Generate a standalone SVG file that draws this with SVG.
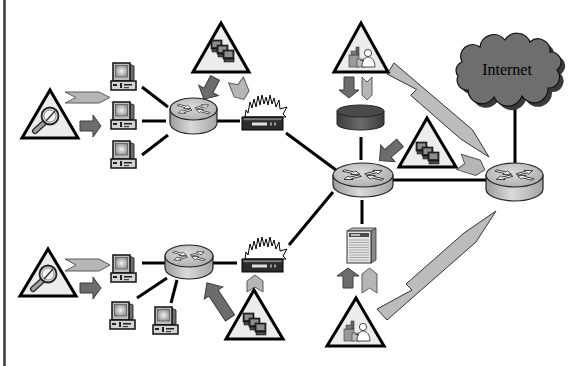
<svg xmlns="http://www.w3.org/2000/svg" xmlns:xlink="http://www.w3.org/1999/xlink" width="568" height="366" viewBox="0 0 568 366">
  <style>
    .ln { stroke: #000; stroke-width: 3; fill: none; }
    .tri { fill: #ececec; stroke: #000; stroke-width: 3; stroke-linejoin: miter; }
    .darr { fill: #6c6c6c; stroke: #3c3c3c; stroke-width: 1; stroke-linejoin: miter; }
    .chev { fill: #b6b6b6; stroke: #5a5a5a; stroke-width: 1; stroke-linejoin: miter; }
    .bolt { fill: #bcbcbc; stroke: #333; stroke-width: 1; stroke-linejoin: miter; }
    .rtop { fill: url(#gRtop); stroke: #222; stroke-width: 1.2; }
    .rbody { fill: url(#gRbody); stroke: #222; stroke-width: 1.2; }
    .ra { fill: #fff; stroke: #111; stroke-width: 0.8; }
    .label { font-family: "Liberation Serif", "Times New Roman", serif; font-size: 16px; fill: #000; }
  </style>
  <defs>
    <linearGradient id="gRbody" x1="0" y1="0" x2="1" y2="0">
      <stop offset="0" stop-color="#9c9c9c"/>
      <stop offset="0.45" stop-color="#dadada"/>
      <stop offset="1" stop-color="#a4a4a4"/>
    </linearGradient>
    <radialGradient id="gRtop" cx="0.45" cy="0.4" r="0.7">
      <stop offset="0" stop-color="#dcdcdc"/>
      <stop offset="1" stop-color="#a8a8a8"/>
    </radialGradient>
    <linearGradient id="gDb" x1="0" y1="0" x2="1" y2="0">
      <stop offset="0" stop-color="#3c3c3c"/>
      <stop offset="0.5" stop-color="#6a6a6a"/>
      <stop offset="1" stop-color="#3c3c3c"/>
    </linearGradient>
    <radialGradient id="gScr" cx="0.5" cy="0.5" r="0.6">
      <stop offset="0" stop-color="#f2f2f2"/>
      <stop offset="1" stop-color="#8a8a8a"/>
    </radialGradient>

    <!-- desktop computer -->
    <g id="pc">
      <polygon points="19,1 24,3 24,17 19,18" fill="#6f6f6f" stroke="#111" stroke-width="0.8"/>
      <rect x="3" y="0" width="17" height="18" fill="#bcbcbc" stroke="#111" stroke-width="1.5"/>
      <rect x="5.5" y="2.5" width="12" height="11.5" fill="url(#gScr)" stroke="#444" stroke-width="0.6"/>
      <rect x="1" y="18" width="25" height="9" fill="#d2d2d2" stroke="#111" stroke-width="1.5"/>
      <rect x="3" y="21" width="4" height="2" fill="#222"/>
      <rect x="10" y="20" width="2" height="5" fill="#222"/>
      <rect x="14" y="21" width="8" height="1.5" fill="#222"/>
      <rect x="14" y="24" width="5" height="1.2" fill="#444"/>
    </g>

    <!-- four arrows on a router top, drawn for rx=24 -->
    <path id="raOut" class="ra" d="M2.5,-1.6 H11.5 V-4 L17.5,0 L11.5,4 V1.6 H2.5 Z"/>
    <path id="raIn" class="ra" d="M18,-1.6 H9 V-4 L3,0 L9,4 V1.6 H18 Z"/>
    <g id="rarrows">
      <g transform="scale(1,0.46)">
        <use xlink:href="#raIn" transform="rotate(-150)"/>
        <use xlink:href="#raOut" transform="rotate(-30)"/>
        <use xlink:href="#raIn" transform="rotate(30)"/>
        <use xlink:href="#raOut" transform="rotate(150)"/>
      </g>
    </g>

    <!-- firewall: box with flames, origin at top-left of box -->
    <g id="firewall">
      <path d="M3,0 L4,-7 L6,-4 L8,-15 L10,-9 L12,-18 L14,-10 L16,-21 L18,-12 L20,-22 L22,-13 L24,-20 L26,-12 L28,-22 L30,-13 L32,-19 L34,-10 L37,-17 L38,-8 L45,-10 L41,-3 L44,0 Z" fill="#fff" stroke="#000" stroke-width="1"/>
      <rect x="0" y="0" width="41" height="13" fill="#2b2b2b" stroke="#000" stroke-width="1"/>
      <rect x="1.5" y="1.2" width="38" height="2" fill="#7a7a7a"/>
      <rect x="10" y="5.5" width="15" height="3" fill="#e0e0e0"/>
      <rect x="28" y="5.5" width="2" height="3" fill="#9a9a9a"/>
      <rect x="32" y="5.5" width="2" height="3" fill="#9a9a9a"/>
    </g>

    <!-- three stacked workstations -->
    <g id="mini">
      <rect x="0" y="0" width="11" height="9" fill="#2e2e2e" stroke="#000" stroke-width="0.6"/>
      <rect x="1.6" y="1.5" width="7.8" height="5.5" fill="#8e8e8e"/>
      <rect x="1" y="9" width="10" height="3" fill="#4a4a4a" stroke="#000" stroke-width="0.5"/>
    </g>
    <g id="stack">
      <use xlink:href="#mini" x="0" y="0"/>
      <use xlink:href="#mini" x="6" y="5"/>
      <use xlink:href="#mini" x="12" y="10"/>
    </g>

    <!-- magnifying glass -->
    <g id="magnifier">
      <line x1="-5" y1="6" x2="-15" y2="15" stroke="#222" stroke-width="6" stroke-linecap="round"/>
      <line x1="-5" y1="6" x2="-15" y2="15" stroke="#a0a0a0" stroke-width="3.6" stroke-linecap="round"/>
      <circle cx="0" cy="0" r="8.5" fill="#d8d8d8" stroke="#222" stroke-width="1.8"/>
      <circle cx="0" cy="0" r="6" fill="#f4f4f4" stroke="#777" stroke-width="0.8"/>
      <line x1="-4" y1="5" x2="5" y2="-5" stroke="#333" stroke-width="1.4"/>
    </g>

    <!-- person at a workbench -->
    <g id="lab">
      <rect x="7" y="0" width="3" height="8" fill="#666" stroke="#222" stroke-width="0.5"/>
      <rect x="0" y="8" width="10" height="12" fill="#9a9a9a" stroke="#333" stroke-width="0.6"/>
      <rect x="2" y="4" width="6" height="4" fill="#7a7a7a" stroke="#333" stroke-width="0.5"/>
      <rect x="8" y="12" width="8" height="8" fill="#bdbdbd" stroke="#333" stroke-width="0.6"/>
      <path d="M13,20 C13,13 16,10 19,10 C23,10 26,14 26,20 Z" fill="#fff" stroke="#222" stroke-width="0.8"/>
      <circle cx="19" cy="6" r="3.6" fill="#fff" stroke="#222" stroke-width="0.8"/>
      <path d="M15,14 L11,13" stroke="#222" stroke-width="0.8"/>
    </g>
  </defs>

  <rect width="568" height="366" fill="#fff"/>
  <line x1="4.5" y1="0" x2="4.5" y2="366" stroke="#3a3a3a" stroke-width="2.5"/>

  <!-- links -->
  <g id="connectors">
    <line class="ln" x1="142" y1="87" x2="168" y2="107"/>
    <line class="ln" x1="142" y1="121" x2="166" y2="121"/>
    <line class="ln" x1="142" y1="155" x2="168" y2="135"/>
    <line class="ln" x1="217" y1="121" x2="240" y2="121"/>
    <line class="ln" x1="142" y1="263" x2="165" y2="263"/>
    <line class="ln" x1="213" y1="263" x2="237" y2="263"/>
    <line class="ln" x1="137" y1="298" x2="167" y2="278"/>
    <line class="ln" x1="171" y1="303" x2="177" y2="280"/>
    <line class="ln" x1="286" y1="133" x2="336" y2="170"/>
    <line class="ln" x1="289" y1="245" x2="333" y2="192"/>
    <line class="ln" x1="361" y1="137" x2="361" y2="160"/>
    <line class="ln" x1="362" y1="200" x2="362" y2="224"/>
    <line class="ln" x1="390" y1="180" x2="488" y2="180"/>
    <line class="ln" x1="515" y1="104" x2="515" y2="165"/>
  </g>

  <!-- lightning links to the edge router -->
  <g id="bolts">
    <polygon class="bolt" points="387,74 416.6,89.4 410.7,95.3 460.8,139.1 489,157 472.5,129.8 394,63"/>
    <polygon class="bolt" points="377,309 412,290 406,284 464,233 496,211 476,242 387,320"/>
  </g>

  <!-- flow arrows -->
  <g id="arrows">
    <path class="darr" transform="translate(80,126)" d="M0,-5 H13 V-11 L21,0 L13,11 V5 H0 Z"/>
    <path class="darr" transform="translate(80,288)" d="M0,-5 H13 V-11 L21,0 L13,11 V5 H0 Z"/>
    <path class="darr" transform="translate(215,78) rotate(117.6)" d="M0,-5 H14 V-11 L24,0 L14,11 V5 H0 Z"/>
    <path class="darr" transform="translate(349,77) rotate(90)" d="M0,-5 H13 V-10 L21,0 L13,10 V5 H0 Z"/>
    <path class="darr" transform="translate(400,143) rotate(139.4)" d="M0,-5 H16 V-11 L27,0 L16,11 V5 H0 Z"/>
    <path class="darr" transform="translate(230,318) rotate(-123.3)" d="M0,-5.5 H30 V-11 L42,0 L30,11 V5.5 H0 Z"/>
    <path class="darr" transform="translate(348,288) rotate(-90)" d="M0,-5 H12 V-11 L20,0 L12,11 V5 H0 Z"/>

    <polygon class="chev" points="65,92 99,92 110,97.5 99,103 65,103 76,97.5"/>
    <polygon class="chev" points="65,259 99,259 110,265 99,271 65,271 76,265"/>
    <polygon class="chev" transform="translate(236,80) rotate(68)" points="0,-8 15,-8 21,0 15,8 0,8 5,0"/>
    <polygon class="chev" transform="translate(367,77) rotate(90)" points="0,-5 18,-5 23,0 18,5 0,5 5,0"/>
    <polygon class="chev" transform="translate(459,162) rotate(17)" points="0,-8 20,-8 27,0 20,8 0,8 6,0"/>
    <polygon class="chev" transform="translate(255,292) rotate(-90)" points="0,-8 11,-8 17,0 11,8 0,8 5,0"/>
    <polygon class="chev" transform="translate(369.5,293) rotate(-90)" points="0,-7.5 19,-7.5 25,0 19,7.5 0,7.5 5,0"/>
  </g>

  <!-- hosts on the upper LAN -->
  <g id="pc-u1"><use xlink:href="#pc" x="110" y="63"/></g>
  <g id="pc-u2"><use xlink:href="#pc" x="110" y="102"/></g>
  <g id="pc-u3"><use xlink:href="#pc" x="110" y="141"/></g>

  <!-- hosts on the lower LAN -->
  <g id="pc-l1"><use xlink:href="#pc" x="110" y="255"/></g>
  <g id="pc-l2"><use xlink:href="#pc" x="109" y="302"/></g>
  <g id="pc-l3"><use xlink:href="#pc" x="152" y="307"/></g>

  <!-- routers -->
  <g id="router-upper">
    <path class="rbody" d="M170,109 V123 A23.5,11 0 0 0 217,123 V109 Z"/>
    <ellipse class="rtop" cx="193.5" cy="109" rx="23.5" ry="11"/>
    <use xlink:href="#rarrows" transform="translate(193.5,109)"/>
  </g>
  <g id="router-lower">
    <path class="rbody" d="M165,256 V268 A24,11 0 0 0 213,268 V256 Z"/>
    <ellipse class="rtop" cx="189" cy="256" rx="24" ry="11"/>
    <use xlink:href="#rarrows" transform="translate(189,256)"/>
  </g>
  <g id="router-core">
    <path class="rbody" d="M333,175 V185 A30,12 0 0 0 393,185 V175 Z"/>
    <ellipse class="rtop" cx="363" cy="175" rx="30" ry="12"/>
    <use xlink:href="#rarrows" transform="translate(363,175) scale(1.25,1.09)"/>
  </g>
  <g id="router-edge">
    <path class="rbody" d="M486,175 V189 A28.5,12 0 0 0 543,189 V175 Z"/>
    <ellipse class="rtop" cx="514.5" cy="175" rx="28.5" ry="12"/>
    <use xlink:href="#rarrows" transform="translate(514.5,175) scale(1.19,1.09)"/>
  </g>

  <!-- firewalls -->
  <g id="firewall-upper"><use xlink:href="#firewall" x="242" y="117"/></g>
  <g id="firewall-lower"><use xlink:href="#firewall" x="242" y="259"/></g>

  <!-- database -->
  <g id="database">
    <path d="M337,111 V124 A23.5,6 0 0 0 384,124 V111 Z" fill="url(#gDb)" stroke="#222" stroke-width="1"/>
    <ellipse cx="360.5" cy="111" rx="23.5" ry="6" fill="#4a4a4a" stroke="#222" stroke-width="1"/>
  </g>

  <!-- file server -->
  <g id="server" transform="translate(347,228)">
    <polygon points="24,3 29,0 29,32 24,35" fill="#8a8a8a" stroke="#333" stroke-width="0.8"/>
    <polygon points="0,3 5,0 29,0 24,3" fill="#bdbdbd" stroke="#333" stroke-width="0.8"/>
    <rect x="0" y="3" width="24" height="32" fill="#e4e4e4" stroke="#333" stroke-width="1"/>
    <rect x="2" y="5" width="20" height="4" fill="#4a4a4a"/>
    <rect x="4" y="6.3" width="9" height="1.4" fill="#eee"/>
    <g stroke="#9a9a9a" stroke-width="0.8">
      <line x1="2" y1="12" x2="22" y2="12"/>
      <line x1="2" y1="14.5" x2="22" y2="14.5"/>
      <line x1="2" y1="17" x2="22" y2="17"/>
      <line x1="2" y1="19.5" x2="22" y2="19.5"/>
      <line x1="2" y1="22" x2="22" y2="22"/>
      <line x1="2" y1="24.5" x2="22" y2="24.5"/>
      <line x1="2" y1="27" x2="22" y2="27"/>
      <line x1="2" y1="29.5" x2="22" y2="29.5"/>
      <line x1="2" y1="32" x2="22" y2="32"/>
    </g>
  </g>

  <!-- internet cloud -->
  <g id="internet">
    <path transform="translate(4,4)" fill="#3a3a3a" d="M462,62 A12,12 0 0,1 480,47 A14,14 0 0,1 505,40 A14,14 0 0,1 530,42 A12,12 0 0,1 550,52 A10,10 0 0,1 557,70 A11,11 0 0,1 548,88 A14,14 0 0,1 522,96 A15,15 0 0,1 494,97 A14,14 0 0,1 468,90 A10,10 0 0,1 458,76 A9,9 0 0,1 462,62 Z"/>
    <path fill="#6e6e6e" stroke="#111" stroke-width="1.2" d="M462,62 A12,12 0 0,1 480,47 A14,14 0 0,1 505,40 A14,14 0 0,1 530,42 A12,12 0 0,1 550,52 A10,10 0 0,1 557,70 A11,11 0 0,1 548,88 A14,14 0 0,1 522,96 A15,15 0 0,1 494,97 A14,14 0 0,1 468,90 A10,10 0 0,1 458,76 A9,9 0 0,1 462,62 Z"/>
    <text class="label" x="507" y="75" text-anchor="middle">Internet</text>
  </g>

  <!-- attacker / operator triangles -->
  <g id="scan-upper">
    <polygon class="tri" points="50,90 78,138 22,138"/>
    <use xlink:href="#magnifier" transform="translate(50,116)"/>
  </g>
  <g id="scan-lower">
    <polygon class="tri" points="48,249 76,296 20,296"/>
    <use xlink:href="#magnifier" transform="translate(48,274)"/>
  </g>
  <g id="zombies-top">
    <polygon class="tri" points="221,23 249,72 193,72"/>
    <use xlink:href="#stack" x="211" y="40"/>
  </g>
  <g id="zombies-core">
    <polygon class="tri" points="427,118 456,167 399,167"/>
    <use xlink:href="#stack" x="416" y="142"/>
  </g>
  <g id="zombies-lower">
    <polygon class="tri" points="254,290 283,339 226,339"/>
    <use xlink:href="#stack" x="243" y="313"/>
  </g>
  <g id="operator-top">
    <polygon class="tri" points="361,23 388,72 334,72"/>
    <use xlink:href="#lab" x="349" y="47"/>
  </g>
  <g id="operator-lower">
    <polygon class="tri" points="356,298 384,346 327,346"/>
    <use xlink:href="#lab" x="344" y="321"/>
  </g>
</svg>
